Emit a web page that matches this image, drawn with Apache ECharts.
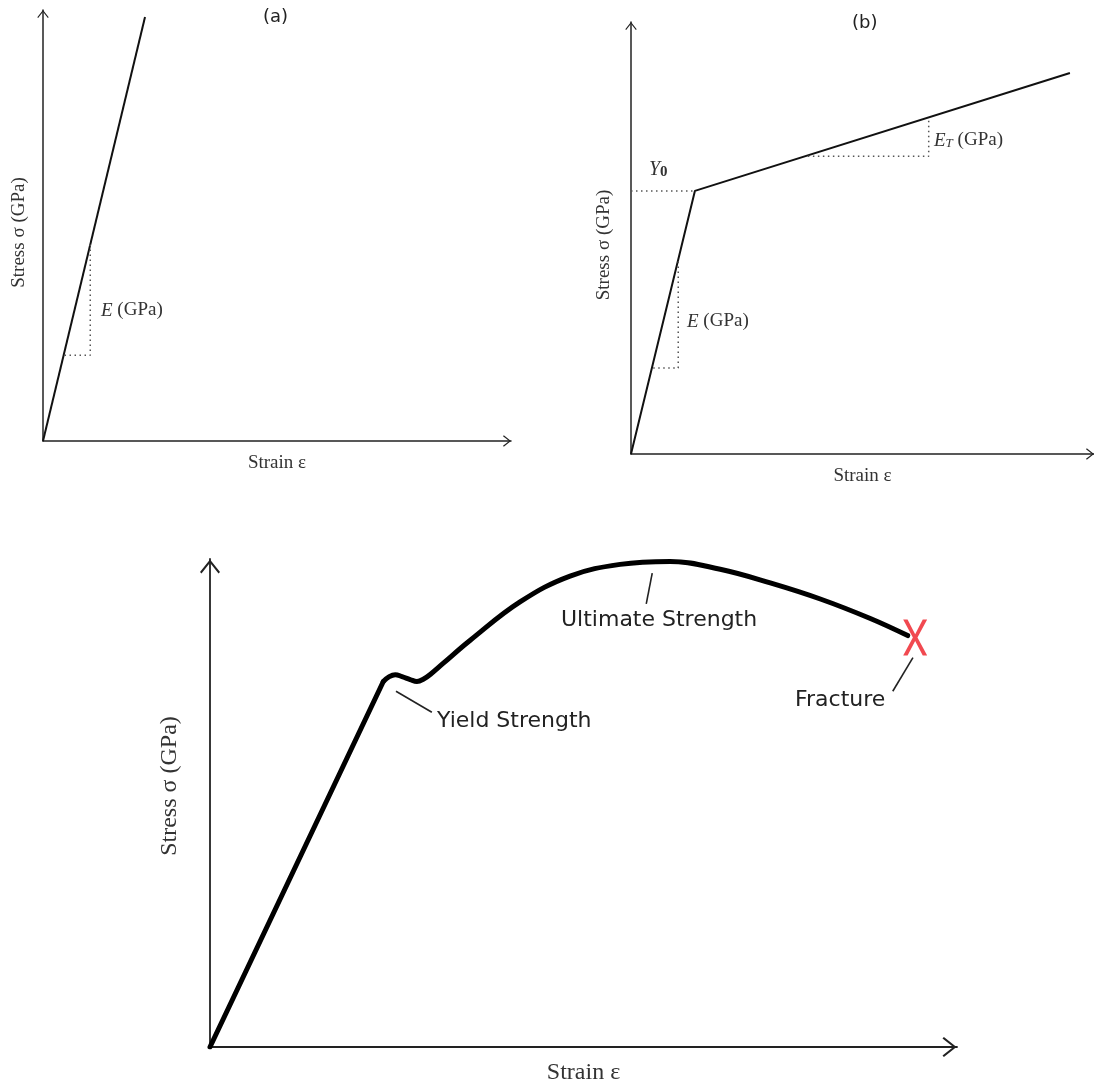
<!DOCTYPE html>
<html><head><meta charset="utf-8">
<script src="https://cdn.jsdelivr.net/npm/echarts@6/dist/echarts.min.js"></script>
<style>html,body{margin:0;padding:0;background:#fff}#c{width:1094px;height:1086px}</style>
</head><body><div id="c"></div><script>
// ---------- Panel (a): linear elastic ----------
const aStrain = [0, 21.8];
const aStress = [0, 98.4];
const aSlopeStrain = [4.6, 10.1, 10.1];
const aSlopeStress = [19.9, 19.9, 45.6];

// ---------- Panel (b): bilinear (elastic + tangent modulus) ----------
const bStrain = [0, 13.8, 94.8];
const bStress = [0, 60.9, 88.2];
const bY0Strain = [0, 13.8];
const bY0Stress = [60.9, 60.9];
const bESlopeStrain = [4.8, 10.2, 10.2];
const bESlopeStress = [19.9, 19.9, 45.0];
const bETSlopeStrain = [38.2, 64.3, 64.3];
const bETSlopeStress = [68.9, 68.9, 77.9];

// ---------- Panel (c): engineering stress-strain curve ----------
const cElasticStrain = [0, 23.2];
const cElasticStress = [0, 74.9];
const cPlasticStrain = [23.2, 24.0, 24.8, 25.7, 26.8, 27.7, 28.6, 29.6, 31.2, 34.8, 41.5, 48.2, 54.9, 61.6, 68.3, 75.0, 81.7, 88.4, 93.4];
const cPlasticStress = [74.9, 75.9, 76.3, 75.9, 75.3, 74.9, 75.4, 76.5, 78.6, 83.3, 91.2, 96.5, 98.9, 99.5, 97.9, 95.1, 91.8, 87.8, 84.3];
const fractureStrain = [94.4];
const fractureStress = [83.9];
const yieldLeaderStrain = [24.9, 29.7];
const yieldLeaderStress = [72.9, 68.6];
const ultimateLeaderStrain = [59.2, 58.4];
const ultimateLeaderStress = [97.1, 90.8];
const fractureLeaderStrain = [94.1, 91.4];
const fractureLeaderStress = [79.8, 72.9];

const xTitle = 'Strain ε';
const yTitle = 'Stress σ (GPa)';

function pts(xs, ys) { return xs.map((x, i) => [x, ys[i]]); }

const SERIF = 'Liberation Serif';
const chevron = 'path://M10,0 L20,12.6 L18.5,14 L10,3.2 L1.5,14 L0,12.6 Z';
const xMark = 'path://M0,0 L4.4,0 L12,14.6 L19.6,0 L24,0 L14.3,18 L24,36 L19.6,36 L12,21.4 L4.4,36 L0,36 L9.7,18 Z';

function xAx(idx, gap, fs, arrow, w) {
  return {
    type: 'value', gridIndex: idx, min: 0, max: 100,
    name: xTitle, nameLocation: 'middle', nameGap: gap,
    nameTextStyle: { fontFamily: SERIF, fontSize: fs, color: '#333' },
    axisLine: { show: true, onZero: false, symbol: ['none', chevron], symbolSize: arrow, symbolOffset: [0, -arrow[1] / 2],
      lineStyle: { color: '#222', width: w } },
    axisTick: { show: false }, axisLabel: { show: false }, splitLine: { show: false }
  };
}
function yAx(idx, gap, fs, arrow, w, pad) {
  return {
    type: 'value', gridIndex: idx, min: 0, max: 100,
    name: yTitle, nameLocation: 'middle', nameGap: gap,
    nameTextStyle: { fontFamily: SERIF, fontSize: fs, color: '#333', padding: pad },
    axisLine: { show: true, onZero: false, symbol: ['none', chevron], symbolSize: arrow, symbolOffset: [0, -arrow[1] / 2],
      lineStyle: { color: '#222', width: w } },
    axisTick: { show: false }, axisLabel: { show: false }, splitLine: { show: false }
  };
}
function dotted(idx, xs, ys) {
  return { type: 'line', xAxisIndex: idx, yAxisIndex: idx, data: pts(xs, ys), symbol: 'none', silent: true,
    lineStyle: { color: '#555', width: 1.5, type: [1.5, 3.5] } };
}
function leader(xs, ys) {
  return { type: 'line', xAxisIndex: 2, yAxisIndex: 2, data: pts(xs, ys), symbol: 'none', silent: true,
    lineStyle: { color: '#222', width: 1.6 } };
}

const chart = echarts.init(document.getElementById('c'), null, { renderer: 'canvas' });
chart.setOption({
  animation: false,
  backgroundColor: '#fff',
  grid: [
    { left: 43, top: 10, width: 468, height: 431 },
    { left: 631, top: 22, width: 465, height: 432 },
    { left: 210, top: 559, width: 747, height: 490 }
  ],
  xAxis: [
    xAx(0, 13, 19, [13, 8], 1.5),
    xAx(1, 13, 19, [13, 8], 1.5),
    xAx(2, 14, 24, [20, 15], 1.8)
  ],
  yAxis: [
    yAx(0, 14, 19, [13, 8], 1.5, [0, 14, 0, 0]),
    yAx(1, 17, 19, [13, 8], 1.5, [0, 14, 0, 0]),
    yAx(2, 28, 24, [20, 15], 1.8, [0, 0, 0, 34])
  ],
  series: [
    { type: 'line', xAxisIndex: 0, yAxisIndex: 0, data: pts(aStrain, aStress), symbol: 'none',
      lineStyle: { color: '#111', width: 2 } },
    dotted(0, aSlopeStrain, aSlopeStress),
    { type: 'line', xAxisIndex: 1, yAxisIndex: 1, data: pts(bStrain, bStress), symbol: 'none',
      lineStyle: { color: '#111', width: 2 } },
    dotted(1, bY0Strain, bY0Stress),
    dotted(1, bESlopeStrain, bESlopeStress),
    dotted(1, bETSlopeStrain, bETSlopeStress),
    { type: 'line', xAxisIndex: 2, yAxisIndex: 2, data: pts(cElasticStrain, cElasticStress), symbol: 'none',
      lineStyle: { color: '#000', width: 5, cap: 'round', join: 'round' } },
    { type: 'line', xAxisIndex: 2, yAxisIndex: 2, data: pts(cPlasticStrain, cPlasticStress), symbol: 'none', smooth: 0.4,
      lineStyle: { color: '#000', width: 5, cap: 'round', join: 'round' } },
    leader(yieldLeaderStrain, yieldLeaderStress),
    leader(ultimateLeaderStrain, ultimateLeaderStress),
    leader(fractureLeaderStrain, fractureLeaderStress),
    { type: 'scatter', xAxisIndex: 2, yAxisIndex: 2, data: pts(fractureStrain, fractureStress),
      symbol: xMark, symbolSize: [24, 36], itemStyle: { color: '#ee1c24' } }
  ],
  graphic: [
    { type: 'text', left: 263, top: 8, style: { text: '(a)', font: '18px "DejaVu Sans"', fill: '#222' } },
    { type: 'text', left: 852, top: 14, style: { text: '(b)', font: '18px "DejaVu Sans"', fill: '#222' } },
    { type: 'text', left: 101, top: 301, style: { text: '{i|E} (GPa)', font: '19px "Liberation Serif"', fill: '#333',
      rich: { i: { fontFamily: SERIF, fontSize: 19, fontStyle: 'italic', fill: '#333' } } } },
    { type: 'text', left: 687, top: 312, style: { text: '{i|E} (GPa)', font: '19px "Liberation Serif"', fill: '#333',
      rich: { i: { fontFamily: SERIF, fontSize: 19, fontStyle: 'italic', fill: '#333' } } } },
    { type: 'text', left: 934, top: 131, style: { text: '{i|E}{s|T} (GPa)', font: '19px "Liberation Serif"', fill: '#333',
      rich: { i: { fontFamily: SERIF, fontSize: 19, fontStyle: 'italic', fill: '#333' },
              s: { fontFamily: SERIF, fontSize: 13, fontStyle: 'italic', fill: '#333', verticalAlign: 'bottom', lineHeight: 14 } } } },
    { type: 'text', left: 649, top: 160, style: { text: '{i|Y}{s|0}', font: '20px "Liberation Serif"', fill: '#333',
      rich: { i: { fontFamily: SERIF, fontSize: 20, fontStyle: 'italic', fill: '#333' },
              s: { fontFamily: SERIF, fontSize: 15, fontWeight: 'bold', fill: '#333', verticalAlign: 'bottom', lineHeight: 15 } } } },
    { type: 'text', left: 437, top: 710, style: { text: 'Yield Strength', font: '22px "DejaVu Sans"', fill: '#222' } },
    { type: 'text', left: 561, top: 609, style: { text: 'Ultimate Strength', font: '22px "DejaVu Sans"', fill: '#222' } },
    { type: 'text', left: 795, top: 689, style: { text: 'Fracture', font: '22px "DejaVu Sans"', fill: '#222' } }
  ]
});
</script></body></html>
